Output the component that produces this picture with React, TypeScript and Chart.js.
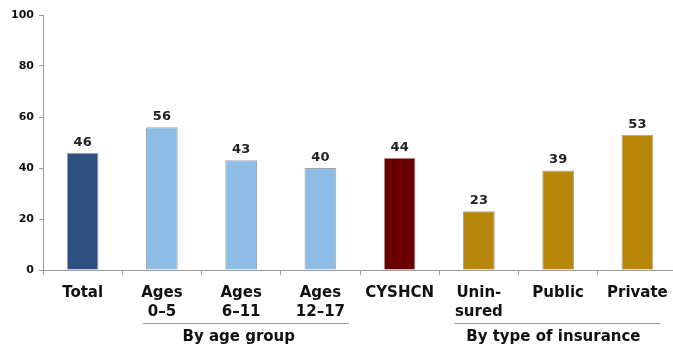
import React, { useEffect, useRef } from "react";
import { Chart, registerables } from "chart.js";

Chart.register(...registerables);

const categories: string[][] = [
  ["Total"],
  ["Ages", "0–5"],
  ["Ages", "6–11"],
  ["Ages", "12–17"],
  ["CYSHCN"],
  ["Unin-", "sured"],
  ["Public"],
  ["Private"],
];
const values: number[] = [46, 56, 43, 40, 44, 23, 39, 53];
const barColors: string[] = [
  "#2E4F80",
  "#8DBDE6",
  "#8DBDE6",
  "#8DBDE6",
  "#680000",
  "#B8870A",
  "#B8870A",
  "#B8870A",
];
const yTicks: number[] = [0, 20, 40, 60, 80, 100];
const groupNames: string[] = ["By age group", "By type of insurance"];
const groupFrom: number[] = [1, 5];
const groupTo: number[] = [3, 7];

const FONT = "'DejaVu Sans', Verdana, sans-serif";

// layout tweaks for group brackets (fractions of a category width)
const GROUP_PAD_L = [0.24, 0.31];
const GROUP_PAD_R = [0.36, 0.29];
const GROUP_TEXT_SHIFT = [-0.09, -0.05];

const valueLabels = {
  id: "valueLabels",
  afterDatasetsDraw(chart: any) {
    const ctx = chart.ctx;
    const meta = chart.getDatasetMeta(0);
    ctx.save();
    ctx.font = `bold 13px ${FONT}`;
    ctx.fillStyle = "#222";
    ctx.textAlign = "center";
    ctx.textBaseline = "bottom";
    meta.data.forEach((bar: any, i: number) => {
      ctx.fillText(String(values[i]), bar.x, bar.y - 4);
    });
    ctx.restore();
  },
};

const groupLabels = {
  id: "groupLabels",
  afterDraw(chart: any) {
    const ctx = chart.ctx;
    const x = chart.scales.x;
    const w = x.getPixelForValue(1) - x.getPixelForValue(0);
    const lineY = chart.chartArea.bottom + 53;
    ctx.save();
    groupNames.forEach((name, i) => {
      const x1 = x.getPixelForValue(groupFrom[i]) - GROUP_PAD_L[i] * w;
      const x2 = x.getPixelForValue(groupTo[i]) + GROUP_PAD_R[i] * w;
      ctx.strokeStyle = "#9a9a9a";
      ctx.lineWidth = 1;
      ctx.beginPath();
      ctx.moveTo(x1, lineY + 0.5);
      ctx.lineTo(x2, lineY + 0.5);
      ctx.stroke();
      ctx.font = `bold 15px ${FONT}`;
      ctx.fillStyle = "#111";
      ctx.textAlign = "center";
      ctx.textBaseline = "middle";
      ctx.fillText(name, (x1 + x2) / 2 + GROUP_TEXT_SHIFT[i] * w, lineY + 14);
    });
    ctx.restore();
  },
};

export default function App() {
  const ref = useRef<HTMLCanvasElement>(null);
  useEffect(() => {
    if (!ref.current) return;
    const chart = new Chart(ref.current, {
      type: "bar",
      data: {
        labels: categories,
        datasets: [
          {
            data: values,
            backgroundColor: barColors,
            borderColor: "rgba(90,90,90,0.55)",
            borderWidth: 1,
            barPercentage: 0.8,
            categoryPercentage: 0.5,
          },
        ],
      },
      options: {
        responsive: false,
        animation: false,
        maintainAspectRatio: false,
        layout: { padding: { top: 15, right: 0, left: 0, bottom: 0 } },
        plugins: {
          legend: { display: false },
          tooltip: { enabled: false },
        },
        scales: {
          x: {
            grid: {
              display: true,
              drawOnChartArea: false,
              offset: true,
              tickLength: 5,
              color: "#9a9a9a",
            },
            border: { color: "#9a9a9a", width: 1 },
            ticks: {
              font: { family: FONT, size: 15, weight: "bold", lineHeight: 1.25 },
              color: "#111",
              padding: 9,
              maxRotation: 0,
              autoSkip: false,
            },
            afterFit(scale: any) {
              scale.height = 77;
            },
          },
          y: {
            min: 0,
            max: 100,
            afterBuildTicks(scale: any) {
              scale.ticks = yTicks.map((v) => ({ value: v }));
            },
            grid: {
              display: true,
              drawOnChartArea: false,
              tickLength: 4,
              color: "#9a9a9a",
            },
            border: { color: "#9a9a9a", width: 1 },
            ticks: {
              font: { family: FONT, size: 11, weight: "bold" },
              color: "#111",
              padding: 5,
            },
            afterFit(scale: any) {
              scale.width = 43;
            },
          },
        },
      },
      plugins: [valueLabels, groupLabels],
    });
    return () => chart.destroy();
  }, []);
  return (
    <div style={{ position: "absolute", left: 0, top: 0, width: 673, height: 347, overflow: "hidden", background: "#fff" }}>
      <canvas ref={ref} width={677} height={347} style={{ display: "block" }} />
    </div>
  );
}
